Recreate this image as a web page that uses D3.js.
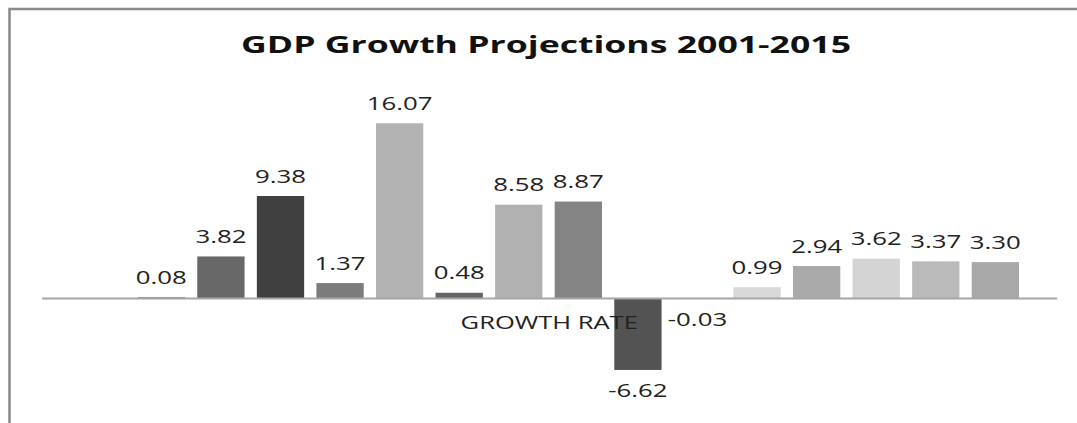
<!DOCTYPE html>
<html>
<head>
<meta charset="utf-8">
<title>GDP Growth Projections 2001-2015</title>
<script src="https://cdn.jsdelivr.net/npm/d3@7"></script>
<style>
  html, body { margin: 0; padding: 0; background: #fff; overflow: hidden; }
  svg { display: block; }
  text { font-family: "Open Sans", "Noto Sans", sans-serif; }
</style>
</head>
<body>
<div id="chart"></div>
<script>
// ---- data ----
const chartTitle = "GDP Growth Projections 2001-2015";
const categories = ["GROWTH RATE"];
const years = ["2001", "2002", "2003", "2004", "2005", "2006", "2007", "2008",
               "2009", "2010", "2011", "2012", "2013", "2014", "2015"];
const growth = [0.08, 3.82, 9.38, 1.37, 16.07, 0.48, 8.58, 8.87,
                -6.62, -0.03, 0.99, 2.94, 3.62, 3.37, 3.30];
const barColors = ["#808080", "#686868", "#404040", "#7c7c7c", "#b3b3b3",
                   "#656565", "#b1b1b1", "#848484", "#535353", "#999999",
                   "#d9d9d9", "#aaaaaa", "#d4d4d4", "#bababa", "#a8a8a8"];

// ---- layout ----
const W = 1077, H = 423;
const stretch = 1.45;          // wide lettering of the chart text

const svg = d3.select("#chart").append("svg")
  .attr("width", W).attr("height", H);

// chart frame: top and left edges only, the rest runs off the page
svg.append("path")
  .attr("d", `M9.5,${H}V9H${W}`)
  .attr("fill", "none")
  .attr("stroke", "#8a8a8a").attr("stroke-width", 2.5);

// category axis: one category holding the 15 yearly series
const xCat = d3.scaleBand().domain(categories).range([41.7, 1056.7]);
const xSeries = d3.scaleBand().domain(years)
  .range([137.7, 1019]).paddingInner(0.206).paddingOuter(0);
const y = d3.scaleLinear().domain([-10, 18]).range([406.7, 102.3]);

// title
svg.append("text")
  .attr("x", 241).attr("y", 53.4)
  .attr("textLength", 610).attr("lengthAdjust", "spacingAndGlyphs")
  .attr("font-size", 24).attr("font-weight", 700).attr("fill", "#111")
  .text(chartTitle);

// bars
svg.append("g").selectAll("rect")
  .data(years)
  .join("rect")
  .attr("x", d => xSeries(d))
  .attr("width", xSeries.bandwidth())
  .attr("y", (d, i) => y(Math.max(0, growth[i])))
  .attr("height", (d, i) => Math.abs(y(growth[i]) - y(0)))
  .attr("fill", (d, i) => barColors[i]);

// horizontal axis line with the category name
const axis = svg.append("g")
  .attr("transform", `translate(0,${y(0)})`)
  .call(d3.axisBottom(xCat).tickSize(0).tickSizeOuter(0).tickPadding(19));
axis.select(".domain").attr("stroke", "#a6a6a6").attr("stroke-width", 2);
axis.selectAll(".tick text")
  .attr("font-size", 17.6)
  .attr("font-family", "'Open Sans', 'Noto Sans', sans-serif")
  .attr("fill", "#222")
  .attr("transform", `scale(${stretch},1)`);

// value labels
svg.append("g").selectAll("g")
  .data(years)
  .join("g")
  .attr("transform", (d, i) => {
    const v = growth[i];
    const cx = xSeries(d) + xSeries.bandwidth() / 2;
    const by = v >= 0 ? y(v) - 13.3 : y(v) + 27.4;
    return `translate(${cx},${by})`;
  })
  .append("text")
  .attr("text-anchor", "middle")
  .attr("font-size", 17.8)
  .attr("fill", "#222")
  .attr("transform", `scale(${stretch},1)`)
  .text((d, i) => growth[i].toFixed(2));
</script>
</body>
</html>
